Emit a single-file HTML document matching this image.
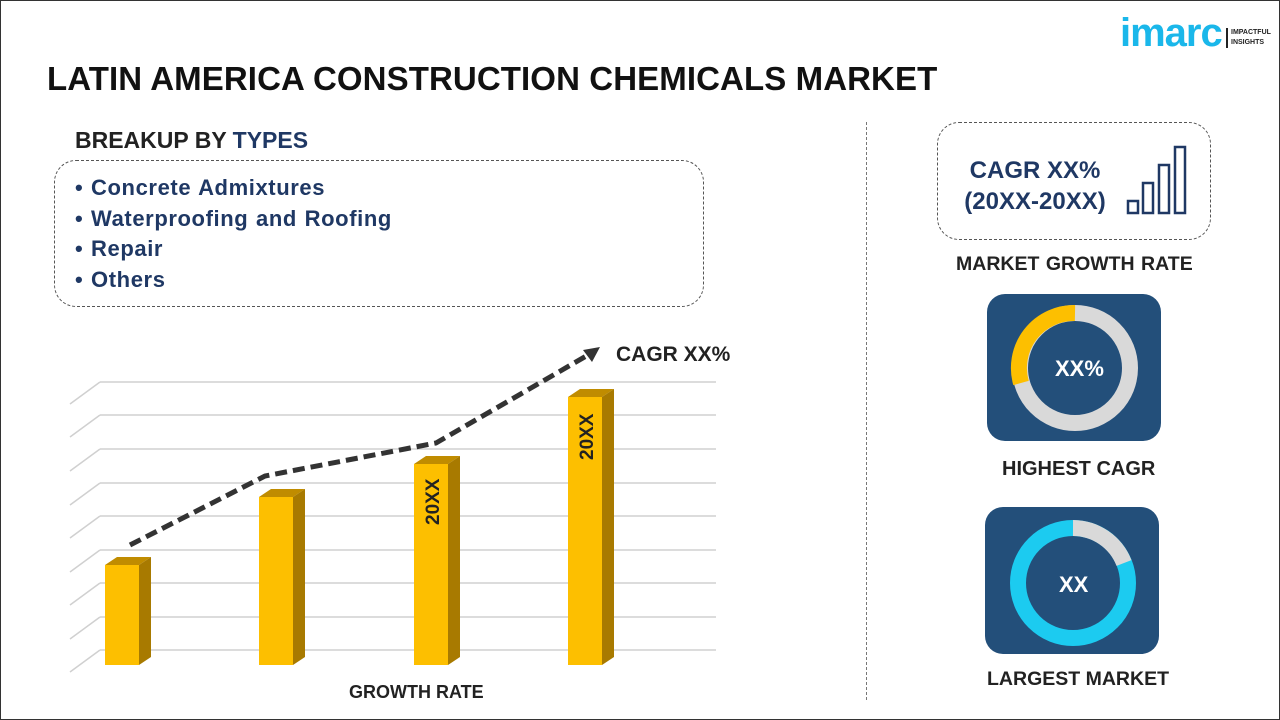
<!DOCTYPE html>
<html><head><meta charset="utf-8"><style>
body{margin:0;width:1280px;height:720px;overflow:hidden;background:#fff;font-family:"Liberation Sans",sans-serif;}
.frame{position:absolute;left:0;top:0;width:1278px;height:718px;border:1px solid #333;}
.t{position:absolute;white-space:nowrap;font-weight:bold;}
</style></head><body>
<div class="frame"></div>
<div class="t" style="left:47px;top:60px;font-size:33px;color:#111;letter-spacing:0.1px">LATIN AMERICA CONSTRUCTION CHEMICALS MARKET</div>
<div class="t" style="left:1120px;top:11px;font-size:40px;color:#1ab7ea;letter-spacing:-1px">imarc</div>
<div style="position:absolute;left:1226px;top:28px;width:2px;height:20px;background:#222"></div>
<div class="t" style="left:1231px;top:28px;font-size:7px;line-height:10px;color:#222">IMPACTFUL<br>INSIGHTS</div>
<div class="t" style="left:75px;top:127px;font-size:23px;color:#222">BREAKUP BY <span style="color:#1f3864">TYPES</span></div>
<div style="position:absolute;left:54px;top:160px;width:648px;height:145px;border:1px dashed #555;border-radius:22px"></div>
<div class="t" style="left:75px;top:173px;font-size:22px;line-height:30.5px;color:#1f3864;letter-spacing:0.6px;word-spacing:1px">• Concrete Admixtures<br>• Waterproofing and Roofing<br>• Repair<br>• Others</div>
<div style="position:absolute;left:866px;top:122px;height:578px;border-left:1px dashed #777"></div>
<svg width="1280" height="720" style="position:absolute;left:0;top:0">
<g stroke="#d0d0d0" stroke-width="1.5" fill="none">
<path d="M100 382H716M100 415H716M100 449H716M100 483H716M100 516H716M100 550H716M100 583H716M100 617H716M100 650H716"/>
<path d="M100 382L70 404M100 415L70 437M100 449L70 471M100 483L70 505M100 516L70 538M100 550L70 572M100 583L70 605M100 617L70 639M100 650L70 672"/>
</g>
<g>
<polygon points="105,565 117,557 151,557 139,565" fill="#c08c00"/><polygon points="139,565 151,557 151,657 139,665" fill="#a87a00"/><rect x="105" y="565" width="34" height="100" fill="#fdbf00"/>
<polygon points="259,497 271,489 305,489 293,497" fill="#c08c00"/><polygon points="293,497 305,489 305,657 293,665" fill="#a87a00"/><rect x="259" y="497" width="34" height="168" fill="#fdbf00"/>
<polygon points="414,464 426,456 460,456 448,464" fill="#c08c00"/><polygon points="448,464 460,456 460,657 448,665" fill="#a87a00"/><rect x="414" y="464" width="34" height="201" fill="#fdbf00"/>
<polygon points="568,397 580,389 614,389 602,397" fill="#c08c00"/><polygon points="602,397 614,389 614,657 602,665" fill="#a87a00"/><rect x="568" y="397" width="34" height="268" fill="#fdbf00"/>
</g>
<text transform="translate(439,525) rotate(-90)" font-family="Liberation Sans" font-weight="bold" font-size="19" fill="#222">20XX</text>
<text transform="translate(593,460) rotate(-90)" font-family="Liberation Sans" font-weight="bold" font-size="19" fill="#222">20XX</text>
<polyline points="130,545 265,476 436,443 588,355" fill="none" stroke="#333" stroke-width="5" stroke-dasharray="12,6"/>
<polygon points="600,347 583,350 592,362" fill="#333"/>
<g stroke="#1f3864" stroke-width="2.5" fill="none">
<rect x="1128" y="201" width="10" height="12"/><rect x="1143" y="183" width="10" height="30"/><rect x="1159" y="165" width="10" height="48"/><rect x="1175" y="147" width="10" height="66"/>
</g>
<rect x="987" y="294" width="174" height="147" rx="18" fill="#234f7a"/>
<circle cx="1075" cy="368" r="55" fill="none" stroke="#d9d9d9" stroke-width="16"/>
<path d="M1075 313 A55 55 0 0 0 1021 383" fill="none" stroke="#fdbf00" stroke-width="16"/>
<rect x="985" y="507" width="174" height="147" rx="18" fill="#234f7a"/>
<circle cx="1073" cy="583" r="55" fill="none" stroke="#1ccbf0" stroke-width="16"/>
<path d="M1073 528 A55 55 0 0 1 1124 563" fill="none" stroke="#d9d9d9" stroke-width="16"/>
</svg>
<div class="t" style="left:616px;top:343px;font-size:21px;color:#222">CAGR XX%</div>
<div class="t" style="left:349px;top:682px;font-size:18px;color:#222">GROWTH RATE</div>
<div style="position:absolute;left:937px;top:122px;width:272px;height:116px;border:1px dashed #555;border-radius:22px"></div>
<div class="t" style="left:955px;top:155px;width:160px;text-align:center;font-size:24px;line-height:31px;color:#1f3864">CAGR XX%<br>(20XX-20XX)</div>
<div class="t" style="left:956px;top:253px;font-size:19.5px;color:#222;word-spacing:1px">MARKET GROWTH RATE</div>
<div class="t" style="left:1055px;top:356px;font-size:22px;color:#fff">XX%</div>
<div class="t" style="left:1002px;top:458px;font-size:20px;color:#222">HIGHEST CAGR</div>
<div class="t" style="left:1059px;top:572px;font-size:22px;color:#fff">XX</div>
<div class="t" style="left:987px;top:668px;font-size:19.5px;color:#222">LARGEST MARKET</div>
</body></html>
